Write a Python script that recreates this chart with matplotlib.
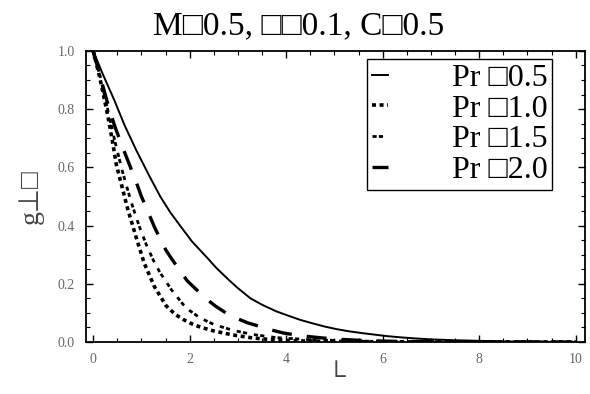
import numpy as np
import matplotlib.pyplot as plt
from matplotlib.ticker import MultipleLocator

# values
eta_a = [0, 0.2, 0.44, 0.65, 0.89, 1.15, 1.39, 1.6, 1.8, 2.05, 2.36, 2.55, 2.8, 3.0, 3.26, 3.5,
         3.8, 4.05, 4.29, 4.55, 4.8, 5.05, 5.33, 5.6, 5.85, 6.1, 6.37, 6.7, 7.0, 7.5, 8.0, 8.5, 9.0, 10]
g_a = [1.0, 0.92, 0.83, 0.745, 0.66, 0.575, 0.50, 0.445, 0.40, 0.345, 0.29, 0.255, 0.215, 0.185, 0.15, 0.128,
       0.105, 0.09, 0.076, 0.064, 0.053, 0.044, 0.036, 0.03, 0.025, 0.02, 0.016, 0.012, 0.009, 0.006, 0.004, 0.002, 0.001, 0.0]

eta_d = [0, 0.12, 0.2, 0.3, 0.4, 0.48, 0.58, 0.72, 0.89, 1.06, 1.27, 1.51, 1.7, 1.86, 2.05, 2.24,
         2.5, 2.9, 3.3, 3.7, 4.2, 5.0, 6.0, 10]
g_d = [1.0, 0.92, 0.86, 0.78, 0.69, 0.61, 0.545, 0.455, 0.36, 0.27, 0.19, 0.125, 0.095, 0.078, 0.062, 0.05,
       0.038, 0.024, 0.014, 0.008, 0.004, 0.002, 0.0005, 0.0]

eta_c = [0, 0.15, 0.3, 0.45, 0.6, 0.79, 0.95, 1.1, 1.25, 1.38, 1.62, 1.86, 2.0, 2.17, 2.35, 2.52,
         2.9, 3.3, 3.8, 4.5, 5.5, 7.0, 10]
g_c = [1.0, 0.91, 0.80, 0.69, 0.59, 0.48, 0.40, 0.335, 0.28, 0.24, 0.18, 0.13, 0.108, 0.088, 0.072, 0.059,
       0.04, 0.026, 0.015, 0.008, 0.003, 0.001, 0.0]

eta_b = [0, 0.15, 0.3, 0.45, 0.62, 0.75, 0.88, 1.0, 1.13, 1.27, 1.4, 1.51, 1.65, 1.78, 1.95, 2.14,
         2.33, 2.53, 2.75, 2.95, 3.2, 3.46, 3.7, 3.94, 4.2, 4.5, 5.0, 5.5, 6.0, 7.0, 8.0, 10]
g_b = [1.0, 0.91, 0.82, 0.74, 0.665, 0.61, 0.555, 0.50, 0.45, 0.395, 0.35, 0.315, 0.28, 0.25, 0.21, 0.18,
       0.15, 0.124, 0.10, 0.083, 0.066, 0.053, 0.041, 0.031, 0.024, 0.018, 0.01, 0.006, 0.003, 0.001, 0.0, 0.0]

labels = ['Pr \u25a10.5', 'Pr \u25a11.0', 'Pr \u25a11.5', 'Pr \u25a12.0']
serif = ['Liberation Serif', 'DejaVu Sans']

fig = plt.figure(figsize=(5.9, 3.94), dpi=100)
ax = fig.add_axes([0.146, 0.132, 0.846, 0.739])

ax.plot(eta_a, g_a, color='black', lw=1.4, label=labels[0])
ax.plot(eta_d, g_d, color='black', lw=2.6, linestyle=(0, (1.1, 1.0)), label=labels[1])
ax.plot(eta_c, g_c, color='black', lw=2.0, linestyle=(0, (1.5, 0.8, 1.5, 2.5)), label=labels[2])
ax.plot(eta_b, g_b, color='black', lw=2.4, linestyle=(0, (6, 4.5)), label=labels[3])

ax.set_xlim(-0.145, 10.2)
ax.set_ylim(0, 1.0)
ax.xaxis.set_major_locator(MultipleLocator(2))
ax.xaxis.set_minor_locator(MultipleLocator(0.5))
ax.yaxis.set_major_locator(MultipleLocator(0.2))
ax.yaxis.set_minor_locator(MultipleLocator(0.05))
ax.tick_params(which='both', direction='in', top=True, right=True,
               labelsize=10, labelcolor='#666666', pad=8)
ax.tick_params(which='major', length=5, width=1)
ax.tick_params(which='minor', length=3, width=0.8)
for lab in ax.get_xticklabels() + ax.get_yticklabels():
    lab.set_family(serif)
for s in ax.spines.values():
    s.set_linewidth(1.3)

ax.set_title('M\u25a10.5, \u25a1\u25a10.1, C\u25a10.5', family=serif, fontsize=24, pad=12, x=0.425)
ax.set_xlabel('\u2514', family=serif, fontsize=19, color='#444444', labelpad=1)
ax.set_ylabel('g\u22a5\u25a1', family=serif, fontsize=20, color='#444444', labelpad=10)

leg = ax.legend(loc='upper right', bbox_to_anchor=(0.934, 0.9725), prop={'family': serif, 'size': 23},
                handlelength=0.5, handletextpad=2.0, labelspacing=0.04, borderpad=0.15,
                fancybox=False, framealpha=1, edgecolor='black', borderaxespad=0)
leg.get_frame().set_linewidth(1.0)

fig.savefig('out.png', dpi=100)
